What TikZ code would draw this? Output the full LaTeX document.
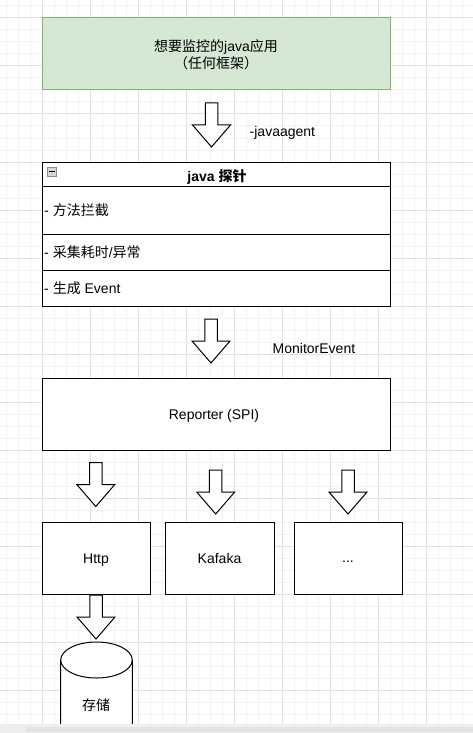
\documentclass[tikz,border=0pt]{standalone}
\usepackage{fontspec}
\setmainfont{Liberation Sans}
\newfontfamily\cjk{Noto Sans CJK SC}
\definecolor{gridminor}{HTML}{F3F3F3}
\definecolor{gridmajor}{HTML}{E2E2E2}
\definecolor{appfill}{HTML}{D5E8D4}
\definecolor{appline}{HTML}{82B366}
\definecolor{barlight}{HTML}{EEEEEE}
\definecolor{bardark}{HTML}{E3E3E3}
\definecolor{iconfill}{HTML}{D6D6DC}
\definecolor{iconline}{HTML}{8A8A9A}
\begin{document}
\begin{tikzpicture}[x=1pt,y=-1pt,
  font=\fontsize{14}{17}\selectfont,
  box/.style={draw=black, line width=1pt, fill=white, inner sep=0pt},
  lbl/.style={inner sep=0pt, text=black},
  blockarr/.pic={\draw[line width=1pt, fill=white, line join=miter]
     (-6.25,0) -- (6.25,0) -- (6.25,22) -- (19,22) -- (0,44) -- (-19,22) -- (-6.25,22) -- cycle;}]
\useasboundingbox (0,0) rectangle (473,733);
\clip (0,0) rectangle (473,733);
\fill[white] (0,0) rectangle (473,733);
% grid
\foreach \gx in {6,18,...,470} \draw[gridminor, line width=1pt] (\gx,0) -- (\gx,733);
\foreach \gy in {6,18,...,730} \draw[gridminor, line width=1pt] (0,\gy) -- (473,\gy);
\foreach \gx in {42,90,...,470} \draw[gridmajor, line width=1pt] (\gx,0) -- (\gx,733);
\foreach \gy in {18,66,...,730} \draw[gridmajor, line width=1pt] (0,\gy) -- (473,\gy);

% application box
\node[box, fill=appfill, draw=appline, minimum width=348pt, minimum height=72pt] (app) at (216,54) {};
\node[lbl, align=center] (apptext) at (216,54.5) {{\cjk 想要监控的}java{\cjk 应用}\\{\cjk （任何框架）}};

% arrow 1
\pic at (211.5,103) {blockarr};
\node[lbl, anchor=west] (agentlbl) at (249.5,133) {-javaagent};

% probe box
\node[box, minimum width=348.5pt, minimum height=24.5pt] (probehead) at (216.25,174.5) {};
\node[box, minimum width=348.5pt, minimum height=47.8pt] (row1) at (216.25,210.6) {};
\node[box, minimum width=348.5pt, minimum height=35.7pt] (row2) at (216.25,252.15) {};
\node[box, minimum width=348.5pt, minimum height=36pt] (row3) at (216.25,288) {};
\node[lbl, font=\fontsize{14}{17}\selectfont\bfseries] (headtext) at (217,177) {java {\cjk 探针}};
\node[draw=iconline, fill=iconfill, line width=0.8pt, minimum width=9.5pt, minimum height=9pt, inner sep=0pt] (icon) at (52,171.5) {};
\draw[black, line width=1.2pt] ([xshift=-2.8pt]icon.center) -- ([xshift=2.8pt]icon.center);
\node[lbl, anchor=west] (r1text) at (44,210) {- {\cjk 方法拦截}};
\node[lbl, anchor=west] (r2text) at (44,252.5) {- {\cjk 采集耗时}/{\cjk 异常}};
\node[lbl, anchor=west] (r3text) at (44,288) {- {\cjk 生成} Event};

% arrow 2
\pic at (211,319) {blockarr};
\node[lbl, anchor=west] (eventlbl) at (272.5,348) {MonitorEvent};

% reporter
\node[box, minimum width=348.5pt, minimum height=72pt] (reporter) at (216.25,414) {};
\node[lbl, anchor=base] (reptext) at (214,419) {Reporter (SPI)};

% arrows to channels
\pic at (95.8,462.5) {blockarr};
\pic at (215.7,470) {blockarr};
\pic at (348,470) {blockarr};

% channel boxes
\node[box, minimum width=108.4pt, minimum height=72pt] (http) at (96.4,558.2) {};
\node[lbl, anchor=base] (httptext) at (96,563.3) {Http};
\node[box, minimum width=108.6pt, minimum height=72pt] (kafka) at (220,558.2) {};
\node[lbl, anchor=base] (kafkatext) at (219.5,563.3) {Kafaka};
\node[box, minimum width=108.4pt, minimum height=72pt] (more) at (348.5,558.2) {};
\node[lbl, anchor=base] (moretext) at (348,562.5) {...};

% arrow to storage
\pic at (96,595) {blockarr};

% storage cylinder
\draw[line width=1pt, fill=white] (60.7,660) -- (60.7,742)
   arc[start angle=180, end angle=0, x radius=35.8, y radius=18] -- (132.3,660);
\draw[line width=1pt, fill=white] (96.5,660) ellipse[x radius=35.8, y radius=18];
\node[lbl] (store) at (96,705) {{\cjk 存储}};

% bottom bar
\fill[barlight] (0,724) rectangle (473,733);
\fill[bardark] (26,727) rectangle (473,732);
\end{tikzpicture}
\end{document}
